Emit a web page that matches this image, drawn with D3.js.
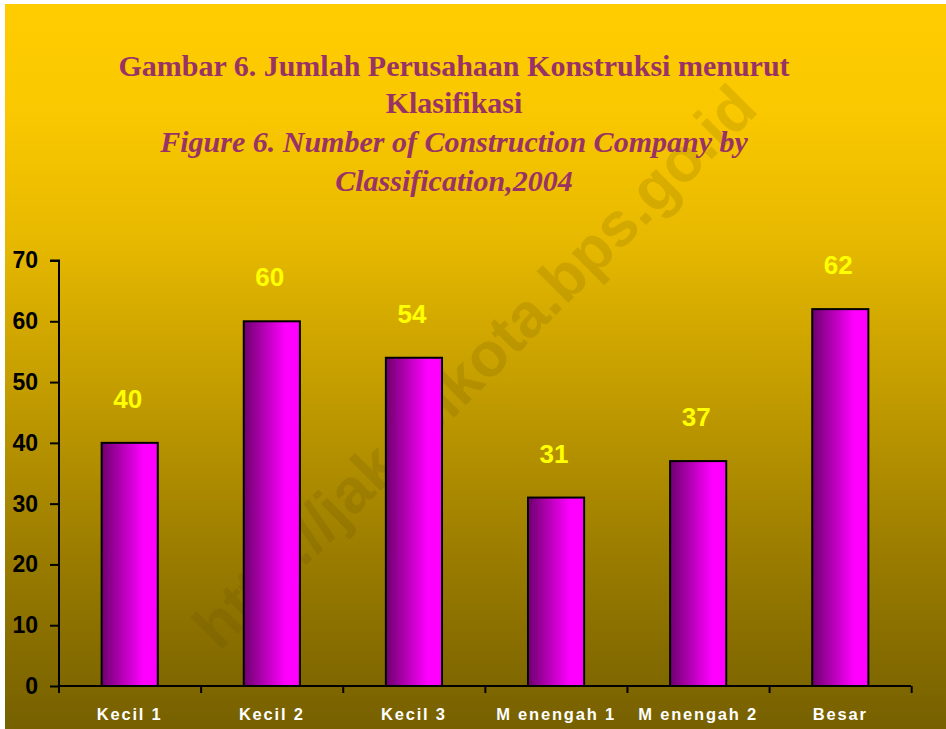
<!DOCTYPE html>
<html>
<head>
<meta charset="utf-8">
<script src="https://cdn.jsdelivr.net/npm/d3@7"></script>
<style>
  html, body { margin: 0; padding: 0; background: #ffffff; }
  svg { display: block; }
</style>
</head>
<body>
<script>
const categories = ["Kecil 1", "Kecil 2", "Kecil 3", "M enengah 1", "M enengah 2", "Besar"];
const values = [40, 60, 54, 31, 37, 62];
const yTicks = [0, 10, 20, 30, 40, 50, 60, 70];
const titleLines = [
  "Gambar 6. Jumlah Perusahaan Konstruksi menurut",
  "Klasifikasi",
  "Figure 6. Number of Construction Company by",
  "Classification,2004"
];
const watermark = "http://jakselkota.bps.go.id";

const W = 946, H = 729;
const svg = d3.select("body").append("svg").attr("width", W).attr("height", H);
const defs = svg.append("defs");

const bg = defs.append("linearGradient").attr("id", "bg").attr("x1", 0).attr("y1", 0).attr("x2", 0).attr("y2", 1);
[[0, "#FFCC00"], [0.15, "#FAC800"], [0.33, "#E6B800"], [0.55, "#C09A00"], [0.77, "#997B00"], [1, "#766000"]]
  .forEach(([o, c]) => bg.append("stop").attr("offset", o).attr("stop-color", c));

const bar = defs.append("linearGradient").attr("id", "bar").attr("x1", 0).attr("y1", 0).attr("x2", 1).attr("y2", 0);
[[0, "#6E006E"], [0.75, "#FF00FF"], [1, "#FF00FF"]]
  .forEach(([o, c]) => bar.append("stop").attr("offset", o).attr("stop-color", c));

svg.append("rect").attr("x", 5).attr("y", 4).attr("width", W - 5).attr("height", H - 4).attr("fill", "url(#bg)");

// watermark
svg.append("text")
  .attr("transform", "translate(478,370) rotate(-45)")
  .attr("text-anchor", "middle")
  .attr("dominant-baseline", "middle")
  .attr("font-family", "Liberation Sans, Arial, sans-serif")
  .attr("font-weight", "bold")
  .attr("font-size", 62)
  .attr("fill", "#5a4200")
  .attr("fill-opacity", 0.15)
  .text(watermark);

// title
const tY = [76, 113, 152, 191];
titleLines.forEach((t, i) => {
  svg.append("text")
    .attr("x", 454).attr("y", tY[i])
    .attr("text-anchor", "middle")
    .attr("font-family", "Liberation Serif, Times New Roman, serif")
    .attr("font-weight", "bold")
    .attr("font-style", i >= 2 ? "italic" : "normal")
    .attr("font-size", 30)
    .attr("fill", "#993366")
    .text(t);
});

const x0 = 59, x1 = 911, y0 = 686, y1 = 260.5;
const x = d3.scaleBand().domain(categories).range([x0, x1]).paddingInner(0.605).paddingOuter(0.3);
const y = d3.scaleLinear().domain([0, 70]).range([y0, y1]);

// bars
svg.append("g").selectAll("rect").data(values).join("rect")
  .attr("x", (d, i) => x(categories[i]))
  .attr("y", d => y(d))
  .attr("width", x.bandwidth())
  .attr("height", d => y0 - y(d))
  .attr("fill", "url(#bar)")
  .attr("stroke", "#000")
  .attr("stroke-width", 2);

// value labels
svg.append("g").selectAll("text").data(values).join("text")
  .attr("x", (d, i) => x(categories[i]) + x.bandwidth() / 2 - 2)
  .attr("y", d => y(d) - 35)
  .attr("text-anchor", "middle")
  .attr("font-family", "Liberation Sans, Arial, sans-serif")
  .attr("font-weight", "bold")
  .attr("font-size", 26)
  .attr("fill", "#FFFF00")
  .text(d => d);

// y axis
const yAxis = d3.axisLeft(y).tickValues(yTicks).tickSize(9).tickPadding(12).tickFormat(d3.format("d"));
const gy = svg.append("g").attr("transform", `translate(${x0},0)`).call(yAxis);
gy.select(".domain").attr("stroke", "#000").attr("stroke-width", 2).attr("d", `M-9,${y1}H0V${y0}`);
gy.selectAll(".tick line").attr("stroke", "#000").attr("stroke-width", 2);
gy.selectAll(".tick text")
  .attr("font-family", "Liberation Sans, Arial, sans-serif")
  .attr("font-weight", "bold")
  .attr("font-size", 23)
  .attr("fill", "#000");

// x axis
const step = x.step();
const boundaries = d3.range(categories.length + 1).map(i => x0 + i * step);
const gx = svg.append("g");
gx.append("line").attr("x1", x0).attr("x2", x1).attr("y1", y0).attr("y2", y0)
  .attr("stroke", "#000").attr("stroke-width", 2);
gx.selectAll("line.t").data(boundaries).join("line").attr("class", "t")
  .attr("x1", d => d).attr("x2", d => d).attr("y1", y0).attr("y2", y0 + 7)
  .attr("stroke", "#000").attr("stroke-width", 2);
gx.selectAll("text").data(categories).join("text")
  .attr("x", d => x(d) + x.bandwidth() / 2)
  .attr("y", 720)
  .attr("text-anchor", "middle")
  .attr("font-family", "Liberation Sans, Arial, sans-serif")
  .attr("font-weight", "bold")
  .attr("font-size", 16.5)
  .attr("letter-spacing", 1.8)
  .attr("fill", "#FFFFFF")
  .text(d => d);
</script>
</body>
</html>
